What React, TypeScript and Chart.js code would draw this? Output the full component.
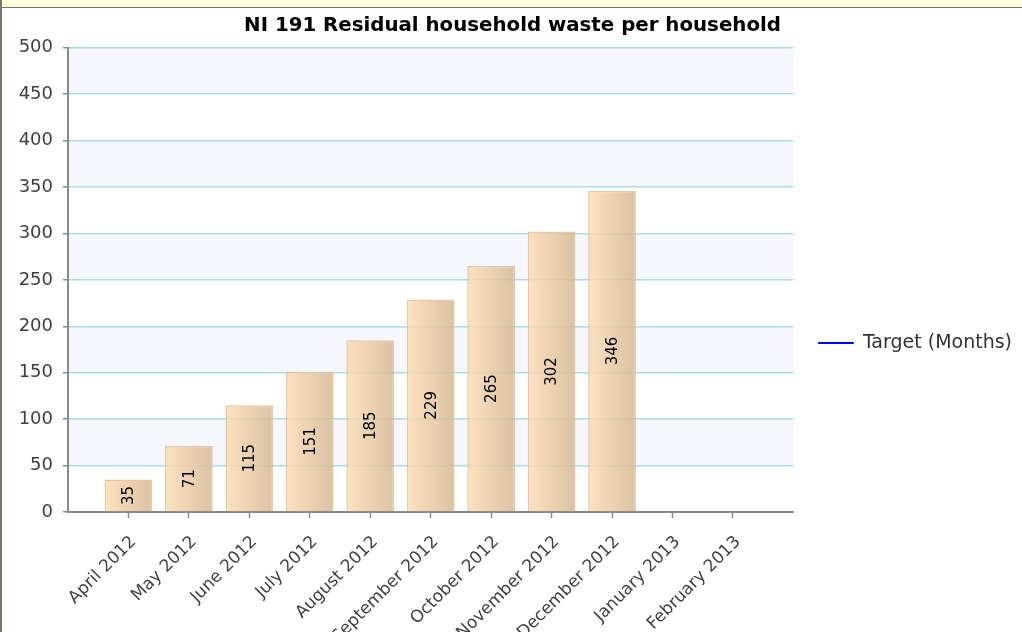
import React, { useEffect, useRef } from 'react';
import { Chart, registerables } from 'chart.js';

Chart.register(...registerables);

const months = [
  'April 2012', 'May 2012', 'June 2012', 'July 2012', 'August 2012', 'September 2012',
  'October 2012', 'November 2012', 'December 2012', 'January 2013', 'February 2013',
];
const residualWaste = [35, 71, 115, 151, 185, 229, 265, 302, 346, null, null];
const targetMonths = [null, null, null, null, null, null, null, null, null, null, null];
const yMin = 0;
const yMax = 500;
const yStep = 50;
const titleText = 'NI 191 Residual household waste per household';
const targetLabel = 'Target (Months)';
const barLabel = 'Residual household waste';

const FONT = '"DejaVu Sans", Verdana, sans-serif';
const BAR_PCT = 0.79;

export default function App() {
  const canvasRef = useRef<HTMLCanvasElement | null>(null);

  useEffect(() => {
    const canvas = canvasRef.current;
    if (!canvas) return;
    const labels = ['', ...months, ''];
    const barData = [null, ...residualWaste, null];
    const lineData = [null, ...targetMonths, null];

    const bandPlugin = {
      id: 'bands',
      beforeDraw(chart: any) {
        const ys = chart.scales.y;
        const area = chart.chartArea;
        if (!ys || !area) return;
        const c = chart.ctx;
        c.save();
        c.fillStyle = '#F6F7FD';
        const ticks = ys.ticks;
        for (let i = 1; i < ticks.length; i += 2) {
          if (ticks[i].value >= yMax) continue;
          const top = ys.getPixelForValue(ticks[i].value + yStep);
          const bot = ys.getPixelForValue(ticks[i].value);
          c.fillRect(area.left, top, area.right - area.left, bot - top);
        }
        c.restore();
      },
    };

    const valueLabelPlugin = {
      id: 'valueLabels',
      afterDatasetsDraw(chart: any) {
        const meta = chart.getDatasetMeta(0);
        const c = chart.ctx;
        meta.data.forEach((el: any, i: number) => {
          const v = chart.data.datasets[0].data[i];
          if (v == null) return;
          const { x, y, base } = el.getProps(['x', 'y', 'base'], true);
          c.save();
          c.translate(x, (y + base) / 2);
          c.rotate(-Math.PI / 2);
          c.font = `15px ${FONT}`;
          c.fillStyle = '#000000';
          c.textAlign = 'center';
          c.textBaseline = 'middle';
          c.fillText(String(v), 0, 1);
          c.restore();
        });
      },
    };

    const chart = new Chart(canvas, {
      data: {
        labels,
        datasets: [
          {
            type: 'bar',
            label: barLabel,
            data: barData,
            barPercentage: BAR_PCT,
            categoryPercentage: 1,
            borderWidth: 1.5,
            borderColor: 'rgba(222,188,146,0.8)',
            backgroundColor: (ctx: any) => {
              const ch = ctx.chart;
              const xs = ch.scales?.x;
              if (!xs || ctx.type !== 'data' || !xs.width) return 'rgba(245,212,170,0.85)';
              const cx = xs.getPixelForValue(ctx.dataIndex);
              const half = (xs.width / (labels.length - 1)) * BAR_PCT / 2;
              const g = ch.ctx.createLinearGradient(cx - half, 0, cx + half, 0);
              g.addColorStop(0, 'rgba(253,222,180,0.86)');
              g.addColorStop(1, 'rgba(212,184,148,0.86)');
              return g;
            },
          } as any,
          {
            type: 'line',
            label: targetLabel,
            data: lineData,
            borderColor: '#0000FF',
            backgroundColor: '#0000FF',
            borderWidth: 1,
            pointRadius: 0,
          } as any,
        ],
      },
      options: {
        animation: false,
        responsive: false,
        maintainAspectRatio: false,
        layout: { padding: { left: 0, right: 0, top: 0, bottom: 0 } },
        plugins: {
          title: {
            display: true,
            text: titleText,
            color: '#000000',
            font: { family: FONT, size: 19.8, weight: 'bold' },
            padding: { top: 6, bottom: 10 },
          },
          legend: {
            display: true,
            position: 'right',
            labels: {
              filter: (item: any) => item.datasetIndex === 1,
              boxWidth: 35,
              boxHeight: 1,
              padding: 25,
              color: '#333333',
              font: { family: FONT, size: 19 },
            },
          },
          tooltip: { enabled: false },
        },
        scales: {
          x: {
            type: 'category',
            offset: false,
            grid: {
              offset: false,
              drawOnChartArea: false,
              drawTicks: true,
              tickLength: 6,
              tickColor: (ctx: any) =>
                ctx.index === 0 || ctx.index === labels.length - 1 ? 'rgba(0,0,0,0)' : '#8A8A8A',
              tickWidth: 1.5,
            },
            border: { color: '#8A8A8A', width: 2 },
            ticks: {
              autoSkip: false,
              minRotation: 45,
              maxRotation: 45,
              color: '#404040',
              font: { family: FONT, size: 17 },
              padding: 14,
              labelOffset: 5,
            },
            afterFit: (scale: any) => {
              scale.height = 166;
            },
          },
          y: {
            type: 'linear',
            min: yMin,
            max: yMax,
            ticks: {
              stepSize: yStep,
              color: '#404040',
              font: { family: FONT, size: 18 },
              padding: 10,
            },
            grid: {
              color: '#ABDDE7',
              lineWidth: 1.5,
              tickColor: '#8A8A8A',
              tickLength: 5,
              tickWidth: 1.5,
            },
            border: { color: '#8A8A8A', width: 2 },
            afterFit: (scale: any) => {
              scale.width = 65;
            },
          },
        },
      } as any,
      plugins: [bandPlugin, valueLabelPlugin],
    });

    return () => {
      chart.destroy();
    };
  }, []);

  return (
    <div
      style={{
        position: 'fixed',
        left: 0,
        top: 0,
        width: 1022,
        height: 632,
        overflow: 'hidden',
        background: '#ffffff',
      }}
    >
      <div
        style={{
          position: 'absolute',
          left: 0,
          top: 0,
          width: 1022,
          height: 7,
          background: '#FFFFDF',
          borderBottom: '1px solid #76766A',
        }}
      />
      <div
        style={{
          position: 'absolute',
          left: 0,
          top: 0,
          width: 2,
          height: 632,
          background: '#76766A',
        }}
      />
      <canvas
        ref={canvasRef}
        width={1019}
        height={670}
        style={{ position: 'absolute', left: 3, top: 8, width: 1019, height: 670 }}
      />
    </div>
  );
}
